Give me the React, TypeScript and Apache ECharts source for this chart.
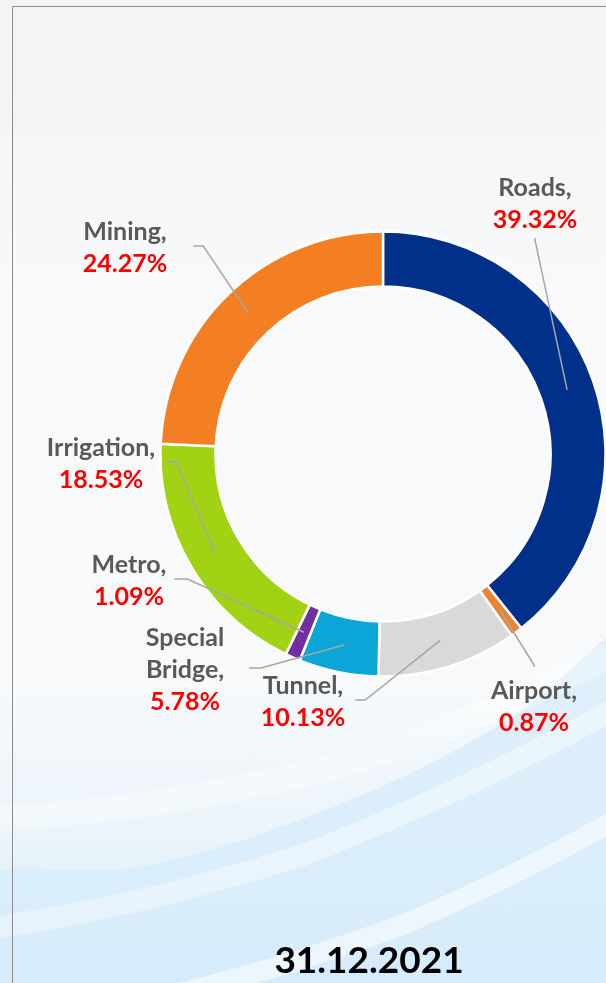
import React, { useEffect, useRef } from "react";
import * as echarts from "echarts";

// ---- data ----
const categories = ["Roads", "Airport", "Tunnel", "Special Bridge", "Metro", "Irrigation", "Mining"];
const shares = [39.32, 0.87, 10.13, 5.78, 1.09, 18.53, 24.27];
const dateLabel = "31.12.2021";

// ---- styling / layout ----
const sliceColors = ["#00308A", "#EE8432", "#D9D9D9", "#0BA5D7", "#7030A0", "#A2D214", "#F47E22"];
const labelCenters = [
  [535, 202],
  [534, 705],
  [303, 700],
  [185, 668],
  [129, 579],
  [101, 462],
  [125, 246],
];
const labelPads = [
  [4, 0],
  [6, 0],
  [0, 10],
  [0, 25],
  [0, 8],
  [0, 10],
  [0, 26],
];
const guideLen2 = [2, 2, 10, 12, 13, 11, 10];

const FONT = "Lato, 'Open Sans', sans-serif";

export default function App() {
  const ref = useRef<HTMLDivElement | null>(null);

  useEffect(() => {
    if (!ref.current) return;
    const chart = echarts.init(ref.current, null, { renderer: "svg" });

    const background: any[] = [
      {
        type: "rect",
        shape: { x: 0, y: 0, width: 606, height: 983 },
        style: {
          fill: new echarts.graphic.LinearGradient(0, 0, 0, 1, [
            { offset: 0, color: "#F2F3F5" },
            { offset: 0.3, color: "#F8F9FB" },
            { offset: 0.7, color: "#F7F9FB" },
            { offset: 0.85, color: "#EAF4FA" },
            { offset: 1, color: "#D8EDF9" },
          ]),
        },
        silent: true,
      },
      {
        type: "polygon",
        shape: {
          points: [
            [-40, 990],
            [-40, 885],
            [150, 865],
            [350, 800],
            [500, 725],
            [650, 630],
            [650, 990],
          ],
          smooth: 0.4,
        },
        style: { fill: "#D5EBF9", opacity: 0.75 },
        silent: true,
      },
      {
        type: "polyline",
        shape: {
          points: [
            [-20, 930],
            [200, 885],
            [400, 815],
            [640, 695],
          ],
          smooth: 0.5,
        },
        style: { stroke: "#FFFFFF", lineWidth: 22, opacity: 0.4, fill: null },
        silent: true,
      },
      {
        type: "polyline",
        shape: {
          points: [
            [150, 1000],
            [330, 950],
            [480, 890],
            [650, 800],
          ],
          smooth: 0.5,
        },
        style: { stroke: "#FFFFFF", lineWidth: 20, opacity: 0.55, fill: null },
        silent: true,
      },
      {
        type: "polyline",
        shape: {
          points: [
            [-20, 820],
            [200, 795],
            [420, 738],
            [650, 635],
          ],
          smooth: 0.5,
        },
        style: { stroke: "#FFFFFF", lineWidth: 26, opacity: 0.3, fill: null },
        silent: true,
      },
      // frame
      {
        type: "polyline",
        shape: {
          points: [
            [12.5, 990],
            [12.5, 6.5],
            [610, 6.5],
          ],
        },
        style: { stroke: "#8C8C8C", lineWidth: 1, fill: null },
        silent: true,
      },
      {
        type: "text",
        x: 369,
        y: 958,
        style: {
          text: dateLabel,
          fontFamily: FONT,
          fontWeight: "bold",
          fontSize: 37,
          fill: "#000000",
          textAlign: "center",
          textVerticalAlign: "middle",
        },
        silent: true,
      },
    ];

    const option: any = {
      animation: false,
      graphic: background,
      series: [
        {
          type: "pie",
          name: "ring",
          z: 1,
          center: [383, 454],
          radius: [167.5, 222.5],
          startAngle: 90,
          clockwise: true,
          silent: true,
          avoidLabelOverlap: false,
          label: { show: false },
          labelLine: { show: false },
          emphasis: { disabled: true },
          itemStyle: { borderColor: "#FFFFFF", borderWidth: 2.5 },
          data: categories.map((c, i) => ({
            name: c,
            value: shares[i],
            itemStyle: { color: sliceColors[i] },
          })),
        },
        {
          type: "pie",
          name: "labels",
          z: 5,
          center: [383, 454],
          radius: [0, 195],
          startAngle: 90,
          clockwise: true,
          silent: true,
          avoidLabelOverlap: false,
          emphasis: { disabled: true },
          itemStyle: { color: "rgba(0,0,0,0)", borderWidth: 0 },
          label: {
            show: true,
            position: "outside",
            alignTo: "none",
            overflow: "none",
            backgroundColor: "rgba(0,0,0,0)",
            formatter: (p: any) =>
              `{n|${String(p.name).replace(" ", "\n")},}\n{v|${Number(p.value).toFixed(2)}%}`,
            rich: {
              n: {
                fontFamily: FONT,
                fontWeight: "bold",
                fontSize: 25,
                lineHeight: 32,
                color: "#595959",
                align: "center",
              },
              v: {
                fontFamily: FONT,
                fontWeight: "bold",
                fontSize: 25,
                lineHeight: 32,
                color: "#FF0000",
                align: "center",
              },
            },
          },
          labelLine: {
            show: true,
            length: 10,
            length2: 10,
            smooth: false,
            minTurnAngle: 90,
            lineStyle: { color: "#A6A6A6", width: 1.5 },
          },
          labelLayout: (params: any) => {
            const c = labelCenters[params.dataIndex];
            return { x: c[0], y: c[1], align: "center", verticalAlign: "middle", hideOverlap: false };
          },
          data: categories.map((c, i) => ({
            name: c,
            value: shares[i],
            label: { padding: labelPads[i] },
            labelLine: { length2: guideLen2[i] },
          })),
        },
      ],
    };

    chart.setOption(option);
    return () => {
      chart.dispose();
    };
  }, []);

  return (
    <div
      ref={ref}
      style={{ position: "fixed", left: 0, top: 0, width: 606, height: 983 }}
    />
  );
}
